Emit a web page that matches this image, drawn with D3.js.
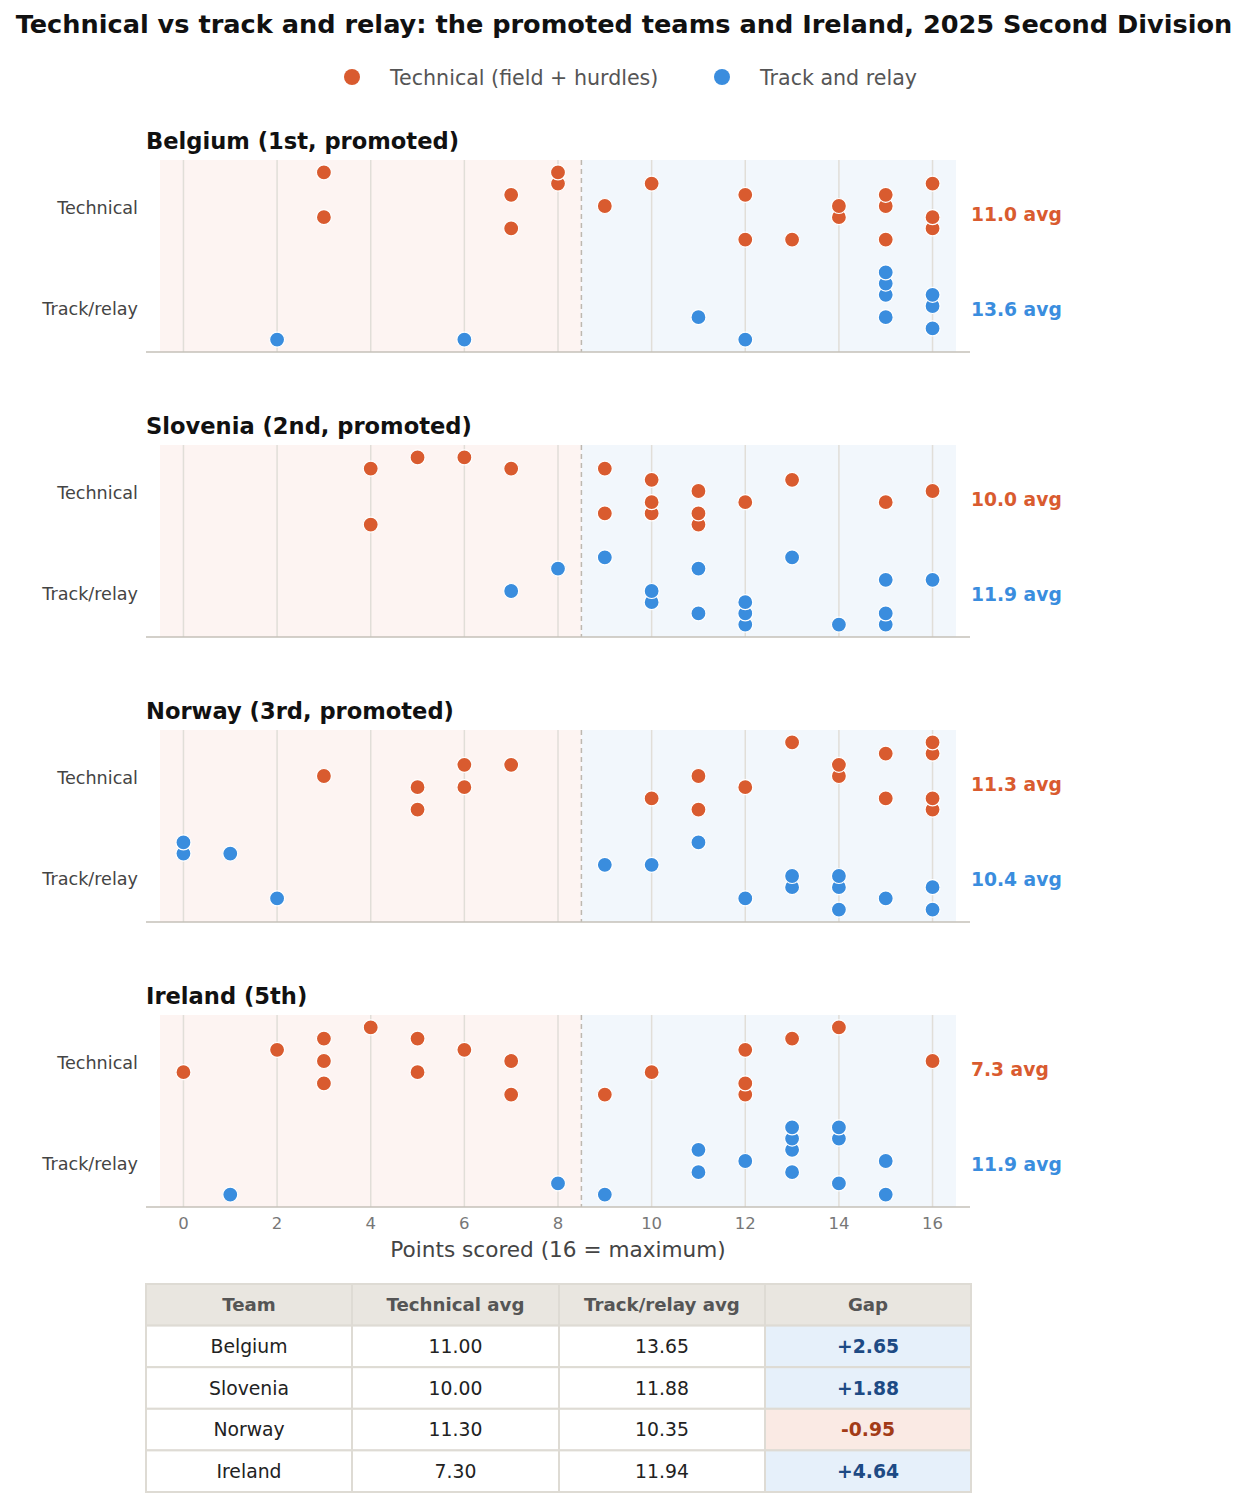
<!DOCTYPE html>
<html>
<head>
<meta charset="utf-8">
<script src="https://cdn.jsdelivr.net/npm/d3@7"></script>
<style>
  html, body { margin: 0; padding: 0; background: #ffffff; }
  svg { display: block; font-family: "DejaVu Sans", sans-serif; }
</style>
</head>
<body>
<svg id="chart" width="1250" height="1506"></svg>
<script>
// ---------- DATA ----------
const chartTitle = "Technical vs track and relay: the promoted teams and Ireland, 2025 Second Division";
const seriesNames = ["Technical (field + hurdles)", "Track and relay"];
const rowLabels = ["Technical", "Track/relay"];
const teams = ["Belgium", "Slovenia", "Norway", "Ireland"];
const panelTitles = ["Belgium (1st, promoted)", "Slovenia (2nd, promoted)", "Norway (3rd, promoted)", "Ireland (5th)"];
const xTicks = [0, 2, 4, 6, 8, 10, 12, 14, 16];
const xAxisLabel = "Points scored (16 = maximum)";

// [points, vertical jitter level]
const belgiumTech = [[3,3],[3,-1],[7,1],[7,-2],[8,3],[8,2],[9,0],[10,2],[12,1],[12,-3],[13,-3],[14,0],[14,-1],[15,1],[15,0],[15,-3],[16,2],[16,-1],[16,-2]];
const belgiumTrack = [[2,-3],[6,-3],[11,-1],[12,-3],[15,3],[15,2],[15,1],[15,-1],[16,1],[16,0],[16,-2]];
const sloveniaTech = [[4,2],[4,-3],[5,3],[6,3],[7,2],[9,2],[9,-2],[10,1],[10,-1],[10,-2],[11,0],[11,-2],[11,-3],[12,-1],[13,1],[15,-1],[16,0]];
const sloveniaTrack = [[7,0],[8,2],[9,3],[10,0],[10,-1],[11,2],[11,-2],[12,-1],[12,-2],[12,-3],[13,3],[14,-3],[15,1],[15,-2],[15,-3],[16,1]];
const norwayTech = [[3,0],[5,-1],[5,-3],[6,1],[6,-1],[7,1],[10,-2],[11,0],[11,-3],[12,-1],[13,3],[14,1],[14,0],[15,2],[15,-2],[16,3],[16,2],[16,-2],[16,-3]];
const norwayTrack = [[0,3],[0,2],[1,2],[2,-2],[9,1],[10,1],[11,3],[12,-2],[13,0],[13,-1],[14,0],[14,-1],[14,-3],[15,-2],[16,-1],[16,-3]];
const irelandTech = [[0,-1],[2,1],[3,2],[3,0],[3,-2],[4,3],[5,2],[5,-1],[6,1],[7,0],[7,-3],[9,-3],[10,-1],[12,1],[12,-2],[12,-3],[13,2],[14,3],[16,0]];
const irelandTrack = [[1,-3],[8,-2],[9,-3],[11,1],[11,-1],[12,0],[13,3],[13,2],[13,1],[13,-1],[14,3],[14,2],[14,-2],[15,0],[15,-3]];

const techAvg = [11.00, 10.00, 11.30, 7.30];
const trackAvg = [13.647, 11.882, 10.353, 11.941];
const tableHeaders = ["Team", "Technical avg", "Track/relay avg", "Gap"];

const techSets = [belgiumTech, sloveniaTech, norwayTech, irelandTech];
const trackSets = [belgiumTrack, sloveniaTrack, norwayTrack, irelandTrack];

// ---------- STYLE ----------
const ORANGE = "#d95b2f";
const BLUE = "#3a8dde";
const svg = d3.select("#chart");

// Title
svg.append("text").attr("x", 624).attr("y", 33).attr("text-anchor", "middle")
  .attr("font-size", 25.6).attr("font-weight", "bold").attr("fill", "#111").text(chartTitle);

// Legend
const legendItems = [
  { name: seriesNames[0], color: ORANGE, cx: 352 },
  { name: seriesNames[1], color: BLUE, cx: 722 }
];
legendItems.forEach(it => {
  svg.append("circle").attr("cx", it.cx).attr("cy", 77).attr("r", 8).attr("fill", it.color);
  svg.append("text").attr("x", it.cx + 38).attr("y", 84.5).attr("font-size", 20.6).attr("fill", "#555").text(it.name);
});

// Scales
const x = d3.scaleLinear().domain([-0.8, 16.8]).range([146, 970]);
const JIT = 0.112;
const panelTop0 = 160, panelStep = 285, panelH = 192;

teams.forEach((team, i) => {
  const t = panelTop0 + i * panelStep;
  const y = d3.scaleLinear().domain([-0.46, 1.46]).range([t + panelH, t]);
  const g = svg.append("g");

  // panel title
  g.append("text").attr("x", 146).attr("y", t - 11).attr("font-size", 22.6).attr("font-weight", "bold")
    .attr("fill", "#111").text(panelTitles[i]);

  // shaded zones
  g.append("rect").attr("x", x(-0.5)).attr("y", t).attr("width", x(8.5) - x(-0.5)).attr("height", panelH)
    .attr("fill", "#fdf4f2");
  g.append("rect").attr("x", x(8.5)).attr("y", t).attr("width", x(16.5) - x(8.5)).attr("height", panelH)
    .attr("fill", "#f2f7fc");

  // gridlines
  g.selectAll(".grid").data(xTicks).enter().append("line")
    .attr("x1", d => x(d)).attr("x2", d => x(d)).attr("y1", t).attr("y2", t + panelH)
    .attr("stroke", "#e1ded8").attr("stroke-width", 1.5);

  // dashed divider
  g.append("line").attr("x1", x(8.5)).attr("x2", x(8.5)).attr("y1", t).attr("y2", t + panelH)
    .attr("stroke", "#bdb8b0").attr("stroke-width", 1.5).attr("stroke-dasharray", "5,4");

  // bottom spine
  g.append("line").attr("x1", 146).attr("x2", 970).attr("y1", t + panelH).attr("y2", t + panelH)
    .attr("stroke", "#c4c0b8").attr("stroke-width", 1.5);

  // row labels
  g.append("text").attr("x", 138).attr("y", y(1) + 7.5).attr("text-anchor", "end").attr("font-size", 17.6)
    .attr("fill", "#444").text(rowLabels[0]);
  g.append("text").attr("x", 138).attr("y", y(0) + 8.5).attr("text-anchor", "end").attr("font-size", 17.6)
    .attr("fill", "#444").text(rowLabels[1]);

  // dots
  const rows = [
    { data: techSets[i], base: 1, color: ORANGE },
    { data: trackSets[i], base: 0, color: BLUE }
  ];
  rows.forEach(r => {
    const pts = r.data.slice().sort((a, b) => a[1] - b[1]);
    g.selectAll(null).data(pts).enter().append("circle")
      .attr("cx", d => x(d[0])).attr("cy", d => y(r.base + d[1] * JIT))
      .attr("r", 7.5).attr("fill", r.color).attr("stroke", "#fff").attr("stroke-width", 1.2);
  });

  // average labels
  g.append("text").attr("x", 971).attr("y", y(1) + 14.5).attr("font-size", 18.7).attr("font-weight", "bold")
    .attr("fill", ORANGE).text(d3.format(".1f")(techAvg[i]) + " avg");
  g.append("text").attr("x", 971).attr("y", y(0) + 9.5).attr("font-size", 18.7).attr("font-weight", "bold")
    .attr("fill", BLUE).text(d3.format(".1f")(trackAvg[i]) + " avg");

  // x tick labels on last panel
  if (i === teams.length - 1) {
    g.selectAll(".tick").data(xTicks).enter().append("text")
      .attr("x", d => x(d)).attr("y", t + panelH + 22).attr("text-anchor", "middle")
      .attr("font-size", 16.5).attr("fill", "#777").text(d => d);
    g.append("text").attr("x", 558).attr("y", t + panelH + 50).attr("text-anchor", "middle")
      .attr("font-size", 21.6).attr("fill", "#444").text(xAxisLabel);
  }
});

// ---------- TABLE ----------
const tX = [146, 352, 559, 765, 971];
const tY0 = 1284, rowH = 41.6;
const tg = svg.append("g");
const tableRows = teams.map((tm, i) => {
  const gap = trackAvg[i] - techAvg[i];
  return [tm, techAvg[i].toFixed(2), trackAvg[i].toFixed(2), (gap >= 0 ? "+" : "") + gap.toFixed(2), gap];
});

// header
tableHeaders.forEach((h, c) => {
  tg.append("rect").attr("x", tX[c]).attr("y", tY0).attr("width", tX[c + 1] - tX[c]).attr("height", rowH)
    .attr("fill", "#e9e6e0").attr("stroke", "#dedbd4").attr("stroke-width", 2);
  tg.append("text").attr("x", (tX[c] + tX[c + 1]) / 2).attr("y", tY0 + rowH / 2 + 6.5).attr("text-anchor", "middle")
    .attr("font-size", 18.2).attr("font-weight", "bold").attr("fill", "#555").text(h);
});
tableRows.forEach((row, r) => {
  const yy = tY0 + rowH * (r + 1);
  for (let c = 0; c < 4; c++) {
    let fill = "#ffffff", tcol = "#222", fw = "normal";
    if (c === 3) {
      const pos = row[4] >= 0;
      fill = pos ? "#e6f0fa" : "#faeae4";
      tcol = pos ? "#1d4a84" : "#a23b17";
      fw = "bold";
    }
    tg.append("rect").attr("x", tX[c]).attr("y", yy).attr("width", tX[c + 1] - tX[c]).attr("height", rowH)
      .attr("fill", fill).attr("stroke", "#dedbd4").attr("stroke-width", 2);
    tg.append("text").attr("x", (tX[c] + tX[c + 1]) / 2).attr("y", yy + rowH / 2 + 6.5).attr("text-anchor", "middle")
      .attr("font-size", 18.8).attr("font-weight", fw).attr("fill", tcol).text(row[c]);
  }
});
</script>
</body>
</html>
